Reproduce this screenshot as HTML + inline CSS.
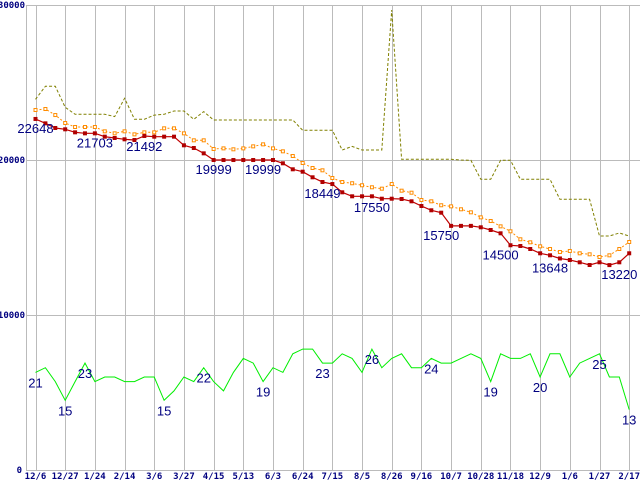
<!DOCTYPE html>
<html><head><meta charset="utf-8">
<style>
html,body{margin:0;padding:0;background:#fff;}
svg{display:block;}
.ax{font-family:"DejaVu Sans Mono","Liberation Mono",monospace;font-size:9px;font-weight:bold;fill:#000080;}
.lb{font-family:"Liberation Sans",sans-serif;font-size:13px;fill:#000080;}
</style></head>
<body>
<svg id="chart" width="640" height="480" xmlns="http://www.w3.org/2000/svg"></svg>
<script>
const xLabels=["12/6","12/27","1/24","2/14","3/6","3/27","4/15","5/13","6/3","6/24","7/15","8/5","8/26","9/16","10/7","10/28","11/18","12/9","1/6","1/27","2/17"];
const yTicks=[0,10000,20000,30000];
const minPrice=[22648,22365,22065,21980,21785,21720,21720,21505,21420,21335,21290,21550,21505,21505,21505,20948,20774,20430,19999,19999,19999,19999,19999,19999,19999,19787,19400,19245,18884,18580,18449,17916,17658,17658,17658,17503,17503,17484,17335,17032,16755,16600,15750,15750,15750,15658,15484,15271,14500,14452,14258,13981,13852,13648,13548,13400,13226,13400,13220,13400,13981];
const avgPrice=[23226,23290,22900,22387,22129,22129,22129,21850,21720,21850,21655,21785,21785,22043,22043,21720,21270,21270,20710,20750,20690,20750,20880,21010,20750,20560,20258,19806,19484,19335,18839,18580,18500,18370,18240,18150,18450,18020,17890,17420,17335,17080,17010,16820,16625,16300,16065,15720,15400,14885,14690,14430,14258,14065,14130,13980,13915,13742,13850,14258,14710];
const maxPrice=[23916,24755,24755,23400,22950,22950,22950,22950,22800,23980,22625,22625,22900,22950,23160,23160,22625,23120,22580,22580,22580,22580,22580,22580,22580,22580,22580,21916,21916,21916,21916,20645,20880,20645,20645,20645,29677,20045,20045,20045,20045,20045,20045,20000,19980,18755,18755,19980,19980,18755,18755,18755,18755,17465,17465,17465,17465,15097,15097,15290,15097];
const counts=[21,22,19,15,19,23,19,20,20,19,19,20,20,15,17,20,19,22,19,17,21,24,23,19,22,21,25,26,26,23,23,25,24,21,26,22,24,25,22,22,24,23,23,24,25,24,19,25,24,24,25,20,25,25,20,23,24,25,20,20,13];
const priceLabels=[[0,22648],[6,21703],[11,21492],[18,19999],[23,19999],[29,18449],[34,17550],[41,15750],[47,14500],[52,13648],[59,13220]];
const countLabels=[[0,21],[3,15],[5,23],[13,15],[17,22],[23,19],[29,23],[34,26],[40,24],[46,19],[51,20],[57,25],[60,13]];
const countScale=300;

const NS="http://www.w3.org/2000/svg";
const svg=document.getElementById('chart');
const X0=35.5, STEP=(629.2-35.5)/60;
function xs(i){return X0+i*STEP;}
function ys(v){return 470-(v/1000)*15.5;}
function mk(tag,attrs){const e=document.createElementNS(NS,tag);for(const k in attrs)e.setAttribute(k,attrs[k]);svg.appendChild(e);return e;}

yTicks.forEach((t,k)=>{
  const g=mk('line',{x1:26,x2:640,y1:ys(t)+0.5,y2:ys(t)+0.5,stroke:'#bbbbbb','stroke-width':1});
  
  
  const tx=mk('text',{x:t===0?22:25,y:ys(t)+3,'text-anchor':'end',class:'ax'});
  tx.textContent=String(t);
  
  
});
xLabels.forEach((l,k)=>{
  const x=Math.round(xs(k*3))+0.5;
  const g=mk('line',{x1:x,x2:x,y1:5,y2:471,stroke:'#bbbbbb','stroke-width':1});
  
  
  const tx=mk('text',{x:xs(k*3),y:479,'text-anchor':'middle',class:'ax'});
  tx.textContent=l;
  
  
});
const ax=mk('line',{x1:26.5,x2:26.5,y1:5,y2:471,stroke:'#bbbbbb','stroke-width':1});



function pts(arr,f){return arr.map((v,i)=>xs(i).toFixed(1)+','+f(v).toFixed(1)).join(' ');}
const mx=mk('polyline',{points:pts(maxPrice,ys),fill:'none',stroke:'#808000','stroke-width':1,'stroke-dasharray':'3,2'});


const av=mk('polyline',{points:pts(avgPrice,ys),fill:'none',stroke:'#ff8c00','stroke-width':1,'stroke-dasharray':'2,2'});


avgPrice.forEach((v,i)=>{
  const r=mk('rect',{x:xs(i)-1.5,y:ys(v)-1.5,width:3,height:3,fill:'#fff',stroke:'#ff8c00','stroke-width':1});
  
  
});
const mn=mk('polyline',{points:pts(minPrice,ys),fill:'none',stroke:'#c00000','stroke-width':1.2});


minPrice.forEach((v,i)=>{
  const r=mk('rect',{x:xs(i)-2,y:ys(v)-2,width:4,height:4,fill:'#b00000'});
  
  
});
const cn=mk('polyline',{points:pts(counts,c=>ys(c*countScale)),fill:'none',stroke:'#00ee00','stroke-width':1});



priceLabels.forEach(([i,v])=>{
  const t=mk('text',{x:xs(i),y:ys(v)+14,'text-anchor':'middle',class:'lb'});
  t.textContent=String(v);
  
  
});
countLabels.forEach(([i,v])=>{
  const t=mk('text',{x:xs(i),y:ys(v*countScale)+15,'text-anchor':'middle',class:'lb'});
  t.textContent=String(v);
  
  
});
</script>
</body></html>
